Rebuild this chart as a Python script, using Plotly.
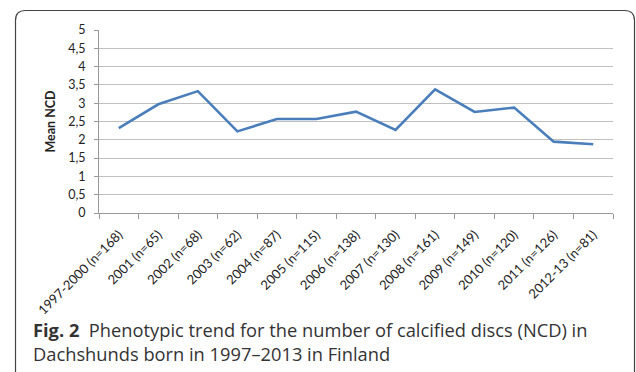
import plotly.graph_objects as go

# Birth-year cohorts with sample sizes
categories = [
    "1997-2000 (n=168)", "2001 (n=65)", "2002 (n=68)", "2003 (n=62)",
    "2004 (n=87)", "2005 (n=115)", "2006 (n=138)", "2007 (n=130)",
    "2008 (n=161)", "2009 (n=149)", "2010 (n=120)", "2011 (n=126)",
    "2012-13 (n=81)",
]
# Mean number of calcified discs per cohort
mean_ncd = [2.32, 2.97, 3.33, 2.23, 2.57, 2.57, 2.77, 2.27, 3.38, 2.76, 2.88, 1.95, 1.88]

y_tick_vals = [0, 0.5, 1, 1.5, 2, 2.5, 3, 3.5, 4, 4.5, 5]
y_tick_text = ["0", "0,5", "1", "1,5", "2", "2,5", "3", "3,5", "4", "4,5", "5"]

W, H = 636, 372
L, R, T, B = 99, 23, 30, 159
PW, PH = W - L - R, H - T - B


def px(x):
    return (x - L) / PW


def py(y):
    return (H - B - y) / PH


fig = go.Figure()
fig.add_trace(go.Scatter(
    x=categories, y=mean_ncd, mode="lines",
    line=dict(color="#4a7ebb", width=2.6),
    hoverinfo="skip", showlegend=False,
))

font_family = "Lato, Carlito, Calibri, sans-serif"

fig.update_layout(
    width=W, height=H,
    margin=dict(l=L, r=R, t=T, b=B),
    paper_bgcolor="white", plot_bgcolor="white",
    xaxis=dict(
        type="category", range=[-0.5, len(categories) - 0.5],
        tickangle=-45, tickson="boundaries",
        ticks="outside", ticklen=5, tickcolor="#999",
        showline=True, linecolor="#999", linewidth=1,
        showgrid=False, ticklabelstandoff=8,
        tickfont=dict(family=font_family, size=13, color="#222"),
        fixedrange=True,
    ),
    yaxis=dict(
        range=[0, 5], tickvals=y_tick_vals, ticktext=y_tick_text,
        ticks="outside", ticklen=4, tickcolor="#999",
        showline=True, linecolor="#999", linewidth=1,
        showgrid=True, gridcolor="#c0c0c0", gridwidth=1,
        zeroline=False, ticklabelstandoff=6,
        tickfont=dict(family=font_family, size=12.5, color="#222"),
        title=dict(text="<b>Mean NCD</b>", font=dict(family=font_family, size=12.5, color="#222"),
                   standoff=9),
        fixedrange=True,
    ),
)

# Rounded frame around the figure panel
x0, x1, y0, y1, r = 15.5, 634.5, 10.5, 400, 10
path = (
    f"M {px(x0)},{py(y1)} L {px(x0)},{py(y0 + r)} "
    f"Q {px(x0)},{py(y0)} {px(x0 + r)},{py(y0)} "
    f"L {px(x1 - r)},{py(y0)} "
    f"Q {px(x1)},{py(y0)} {px(x1)},{py(y0 + r)} "
    f"L {px(x1)},{py(y1)}"
)
fig.add_shape(type="path", path=path, xref="paper", yref="paper",
              line=dict(color="#444", width=1.2), layer="above")

caption_font = dict(family="Open Sans, Noto Sans, sans-serif", size=18.3, color="#333")
fig.add_annotation(
    x=px(31), y=py(329), xref="paper", yref="paper",
    xanchor="left", yanchor="middle", showarrow=False, align="left",
    text="<b>Fig. 2</b>  Phenotypic trend for the number of calcified discs (NCD) in",
    font=caption_font,
)
fig.add_annotation(
    x=px(31), y=py(353), xref="paper", yref="paper",
    xanchor="left", yanchor="middle", showarrow=False, align="left",
    text="Dachshunds born in 1997–2013 in Finland",
    font=caption_font,
)

fig.write_html("out.html", config={"displayModeBar": False})
